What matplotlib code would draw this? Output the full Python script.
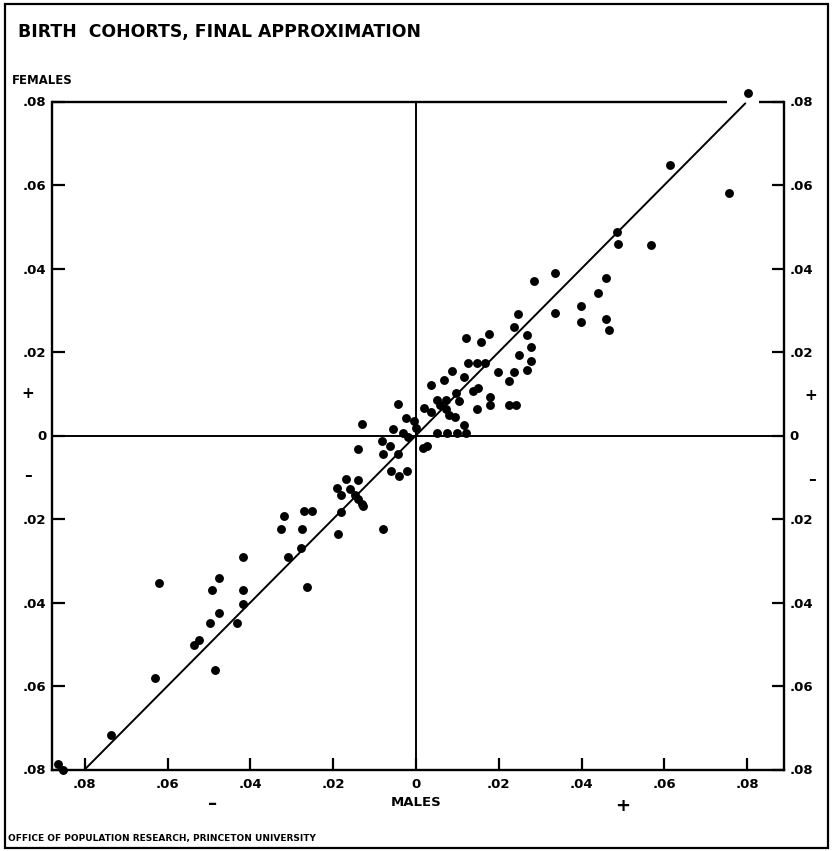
import matplotlib
matplotlib.use("Agg")
import matplotlib.pyplot as plt
from matplotlib.patches import Rectangle
import numpy as np

# Deviations of birth cohorts: males (x) vs females (y)
males = [
    0.0802, 0.0614, 0.0756, 0.0486, 0.0487, 0.0568, 0.0337, 0.0286, 0.0459, 0.0440,
    0.0398, 0.0337, 0.0399, 0.0458, 0.0467, 0.0247, 0.0237, 0.0120, 0.0176, 0.0157,
    0.0269, 0.0279, 0.0250, 0.0279, 0.0269, 0.0238, 0.0226, 0.0199, 0.0168, 0.0147,
    0.0125, 0.0087, 0.0117, 0.0068, 0.0036, 0.0097, 0.0103, 0.0149, 0.0137, 0.0179,
    0.0180, 0.0147, 0.0224, 0.0242, 0.0050, 0.0072, 0.0019, 0.0036, 0.0058, 0.0072,
    0.0080, 0.0094, 0.0117, 0.0050, 0.0076, 0.0100, 0.0122, -0.0024, -0.0005, -0.0001,
    -0.0032, -0.0019, 0.0018, 0.0027, -0.0043, -0.0131, -0.0055, -0.0083, -0.0063, -0.0139,
    -0.0080, -0.0043, -0.0060, -0.0042, -0.0022, -0.0169, -0.0139, -0.0190, -0.0159, -0.0180,
    -0.0147, -0.0139, -0.0131, -0.0127, -0.0180, -0.0271, -0.0252, -0.0276, -0.0188, -0.0080,
    -0.0318, -0.0327, -0.0278, -0.0308, -0.0418, -0.0262, -0.0475, -0.0620, -0.0493, -0.0418,
    -0.0418, -0.0476, -0.0497, -0.0432, -0.0523, -0.0535, -0.0485, -0.0630, -0.0737, -0.0865,
    -0.0853,
]
females = [
    0.0821, 0.0647, 0.0581, 0.0487, 0.0459, 0.0457, 0.0390, 0.0371, 0.0378, 0.0341,
    0.0311, 0.0293, 0.0273, 0.0280, 0.0253, 0.0291, 0.0261, 0.0233, 0.0243, 0.0223,
    0.0240, 0.0212, 0.0193, 0.0179, 0.0157, 0.0151, 0.0131, 0.0153, 0.0173, 0.0173,
    0.0173, 0.0155, 0.0141, 0.0133, 0.0121, 0.0101, 0.0083, 0.0113, 0.0107, 0.0093,
    0.0072, 0.0063, 0.0072, 0.0072, 0.0084, 0.0084, 0.0065, 0.0056, 0.0073, 0.0064,
    0.0049, 0.0044, 0.0025, 0.0005, 0.0005, 0.0005, 0.0005, 0.0041, 0.0035, 0.0019,
    0.0007, -0.0004, -0.0031, -0.0025, 0.0075, 0.0028, 0.0015, -0.0014, -0.0025, -0.0033,
    -0.0044, -0.0044, -0.0085, -0.0096, -0.0085, -0.0105, -0.0107, -0.0125, -0.0127, -0.0143,
    -0.0143, -0.0151, -0.0163, -0.0169, -0.0183, -0.0181, -0.0181, -0.0223, -0.0235, -0.0224,
    -0.0194, -0.0225, -0.0270, -0.0292, -0.0292, -0.0363, -0.0341, -0.0353, -0.0371, -0.0371,
    -0.0403, -0.0424, -0.0450, -0.0450, -0.0490, -0.0502, -0.0562, -0.0580, -0.0718, -0.0786,
    -0.0800,
]

tick_values = [-0.08, -0.06, -0.04, -0.02, 0.0, 0.02, 0.04, 0.06, 0.08]
tick_labels = [".08", ".06", ".04", ".02", "0", ".02", ".04", ".06", ".08"]
diag_range = [-0.08, 0.0795]

W, H = 832, 851
fig = plt.figure(figsize=(W / 100, H / 100), dpi=100)
fig.patch.set_facecolor("white")

def fx(px):
    return px / W

def fy(py):
    return 1 - py / H

ax = fig.add_axes([fx(52), fy(769.5), fx(784) - fx(52), fy(101.5) - fy(769.5)])
ax.set_xlim(-0.0879, 0.0889)
ax.set_ylim(-0.08, 0.08)

LW = 1.4
bold = dict(fontweight="bold", family="DejaVu Sans", color="black")

# reference lines
ax.axhline(0, color="black", lw=LW, zorder=1)
ax.axvline(0, color="black", lw=LW, zorder=1)
ax.plot(diag_range, diag_range, color="black", lw=LW, zorder=2)

# points
ax.plot(males, females, "o", color="black", markersize=6.4, markeredgewidth=0,
        clip_on=False, zorder=3)

# spines: top one broken around the top-right point
for side in ["left", "right", "bottom"]:
    ax.spines[side].set_linewidth(LW + 0.3)
ax.spines["top"].set_visible(False)
xmin, xmax = ax.get_xlim()
ax.plot([xmin, 0.0751], [0.08, 0.08], color="black", lw=LW + 0.3,
        clip_on=False, zorder=2, solid_capstyle="butt")
ax.plot([0.0828, xmax], [0.08, 0.08], color="black", lw=LW + 0.3,
        clip_on=False, zorder=2, solid_capstyle="butt")

ax.set_xticks(tick_values)
ax.set_xticklabels(tick_labels)
ax.set_yticks(tick_values)
ax.set_yticklabels(tick_labels)
ax.tick_params(axis="both", direction="in", length=9, width=LW + 0.2,
               labelsize=9.5, pad=6)
ax.tick_params(axis="y", left=True, right=True, labelleft=True, labelright=True, pad=4)
for lab in ax.get_xticklabels() + ax.get_yticklabels():
    lab.set_fontweight("bold")

# titles and annotations
fig.text(fx(18), fy(32), "BIRTH  COHORTS, FINAL APPROXIMATION", ha="left", va="center",
         fontsize=12.4, **bold)
fig.text(fx(12), fy(80), "FEMALES", ha="left", va="center", fontsize=8.4, **bold)
fig.text(fx(416), fy(802), "MALES", ha="center", va="center", fontsize=9.5, **bold)
fig.text(fx(213), fy(804), "\u2013", ha="center", va="center", fontsize=13, **bold)
fig.text(fx(623), fy(806), "+", ha="center", va="center", fontsize=13, **bold)
fig.text(fx(28), fy(393), "+", ha="center", va="center", fontsize=11, **bold)
fig.text(fx(28), fy(476), "\u2013", ha="center", va="center", fontsize=11, **bold)
fig.text(fx(811), fy(395), "+", ha="center", va="center", fontsize=11, **bold)
fig.text(fx(812), fy(479), "\u2013", ha="center", va="center", fontsize=11, **bold)
fig.text(fx(8), fy(838), "OFFICE OF POPULATION RESEARCH, PRINCETON UNIVERSITY",
         ha="left", va="center", fontsize=6.5, **bold)

# outer frame
fig.patches.append(Rectangle((fx(5), fy(848)), fx(828) - fx(5), fy(4) - fy(848),
                             transform=fig.transFigure, fill=False,
                             edgecolor="black", lw=1.6))

fig.savefig("out.png", dpi=100)
